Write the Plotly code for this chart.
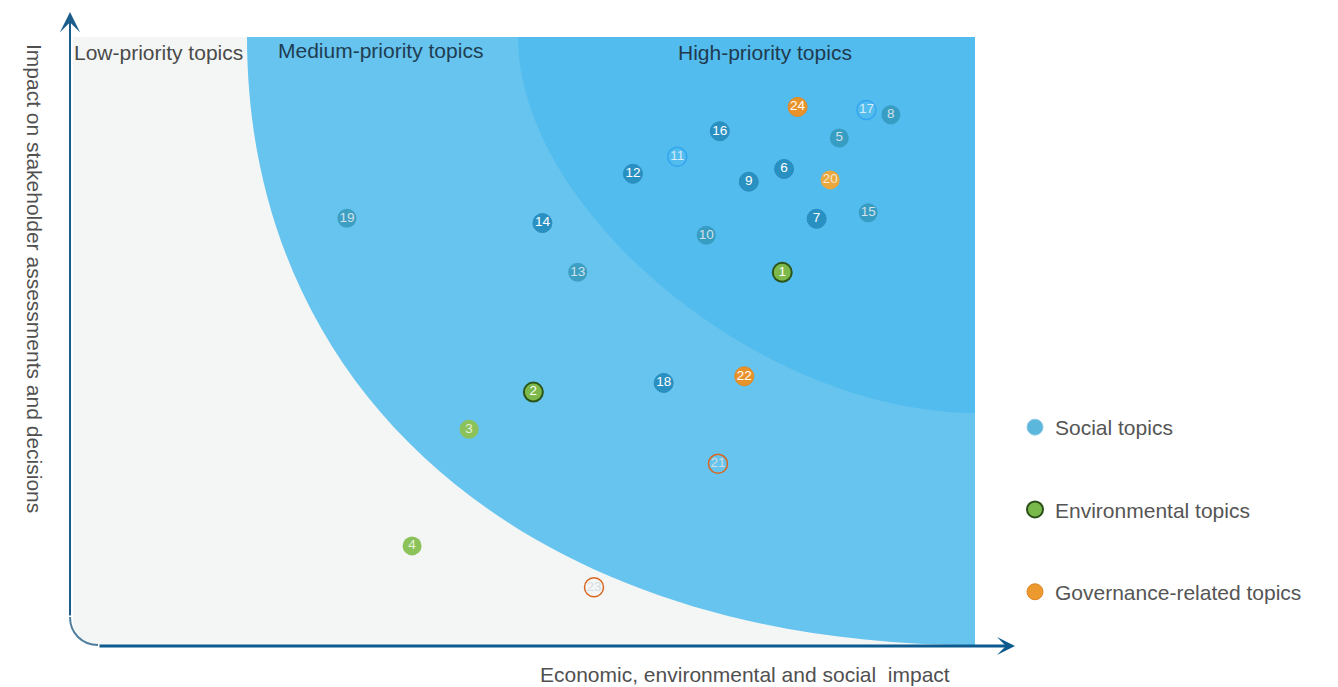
import plotly.graph_objects as go

# ---------------- data (0-10 scale on both axes) ----------------
topic_ids = [1, 2, 3, 4, 5, 6, 7, 8, 9, 10, 11, 12, 13, 14, 15, 16, 17, 18, 19, 20, 21, 22, 23, 24]
economic_impact = [7.87, 5.12, 4.41, 3.78, 8.50, 7.89, 8.25, 9.07, 7.50, 7.03, 6.71, 6.22,
                   5.61, 5.22, 8.82, 7.18, 8.80, 6.56, 3.06, 8.40, 7.16, 7.45, 5.79, 8.04]
stakeholder_impact = [6.13, 4.16, 3.55, 1.63, 8.34, 7.83, 7.01, 8.72, 7.62, 6.74, 8.03, 7.75,
                      6.13, 6.94, 7.11, 8.45, 8.80, 4.31, 7.02, 7.65, 2.98, 4.42, 0.95, 8.85]
category = ["Environmental"] * 4 + ["Social"] * 15 + ["Governance"] * 5

legend_labels = ["Social topics", "Environmental topics", "Governance-related topics"]
zone_labels = ["Low-priority topics", "Medium-priority topics", "High-priority topics"]
x_title = "Economic, environmental and social  impact"
y_title = "Impact on stakeholder assessments and decisions"

# ---------------- styles ----------------
variant = {1: "env_dark", 2: "env_dark", 3: "env_light", 4: "env_light",
           5: "soc_muted", 6: "soc_solid", 7: "soc_solid", 8: "soc_muted", 9: "soc_solid",
           10: "soc_muted", 11: "soc_hollow", 12: "soc_solid", 13: "soc_muted", 14: "soc_solid",
           15: "soc_muted", 16: "soc_solid", 17: "soc_hollow", 18: "soc_solid", 19: "soc_muted",
           20: "gov_light", 21: "gov_hollow", 22: "gov_solid", 23: "gov_hollow", 24: "gov_solid"}
# fill, line colour, line width, text colour
variant_style = {
    "soc_solid": ("#2990c2", "#2a8cbd", 1, "#ffffff"),
    "soc_muted": ("rgba(40,140,170,0.65)", "rgba(40,140,170,0.0)", 0, "#d3e2ea"),
    "soc_hollow": ("rgba(0,0,0,0)", "#33a6ef", 1.5, "#d6ecfa"),
    "env_dark": ("#7cb84a", "#2c5519", 2, "#ffffff"),
    "env_light": ("#8cc25a", "#8cc25a", 0, "#e6f2da"),
    "gov_solid": ("#e8932a", "#e08a25", 1, "#ffffff"),
    "gov_light": ("#eba63d", "#eba63d", 0, "#f6ead2"),
    "gov_hollow": ("rgba(0,0,0,0)", "#d9661e", 1.5, "#d3dde3"),
}

W, H = 1338, 687
L, R, T, B = 70, 975, 37, 645   # plot area in pixels


def px(xp):
    return (xp - L) / (R - L)


def py(yp):
    return (B - yp) / (B - T)


fig = go.Figure()

# ---------------- background zones ----------------
grey = (f"M {px(73)},{py(37)} L {px(975)},{py(37)} L {px(975)},{py(645)} L {px(98)},{py(645)} "
        f"C {px(84)},{py(645)} {px(73)},{py(634)} {px(73)},{py(620)} Z")
k1, rx1, ry1, x01 = 0.6, 728, 608, 247
medium = (f"M {px(x01)},{py(37)} C {px(x01)},{py(37 + k1 * ry1)} {px(975 - k1 * rx1)},{py(645)} "
          f"{px(975)},{py(645)} L {px(975)},{py(37)} Z")
k2, rx2, ry2, x02 = 0.465, 457, 376, 518
high = (f"M {px(x02)},{py(37)} C {px(x02)},{py(37 + k2 * ry2)} {px(975 - k2 * rx2)},{py(37 + ry2)} "
        f"{px(975)},{py(37 + ry2)} L {px(975)},{py(37)} Z")
shapes = [
    dict(type="path", path=grey, xref="paper", yref="paper", fillcolor="#f4f6f6",
         line=dict(width=0), layer="below"),
    dict(type="path", path=medium, xref="paper", yref="paper", fillcolor="#66c4ee",
         line=dict(width=0), layer="below"),
    dict(type="path", path=high, xref="paper", yref="paper", fillcolor="#53bcee",
         line=dict(width=0), layer="below"),
    # rounded corner joining the two axis lines
    dict(type="path", path=f"M {px(70)},{py(617)} C {px(70)},{py(633)} {px(82)},{py(645)} {px(98)},{py(645)}",
         xref="paper", yref="paper", line=dict(color="#4e7d9c", width=2)),
]

font = "Liberation Sans, Arial, sans-serif"

# ---------------- data points ----------------
for cat in ["Social", "Environmental", "Governance"]:
    idx = [i for i, c in enumerate(category) if c == cat]
    sty = [variant_style[variant[topic_ids[i]]] for i in idx]
    fig.add_trace(go.Scatter(
        x=[economic_impact[i] for i in idx],
        y=[stakeholder_impact[i] for i in idx],
        mode="markers+text",
        text=[str(topic_ids[i]) for i in idx],
        textposition="middle center",
        textfont=dict(family=font, size=13.5, color=[s[3] for s in sty]),
        marker=dict(size=19, color=[s[0] for s in sty],
                    line=dict(color=[s[1] for s in sty], width=[s[2] for s in sty])),
        showlegend=False, hoverinfo="skip", cliponaxis=False,
    ))

# ---------------- legend entries ----------------
legend_markers = [
    dict(size=17, color="#5cb7dc", line=dict(color="#8fcbe6", width=1)),
    dict(size=16, color="#79b84a", line=dict(color="#2b4f1a", width=2)),
    dict(size=17, color="#ec992d", line=dict(color="#e0862a", width=1)),
]
for lab, mk in zip(legend_labels, legend_markers):
    fig.add_trace(go.Scatter(x=[None], y=[None], mode="markers", name=lab, marker=mk,
                             legendgroup=lab, showlegend=True))

# ---------------- annotations ----------------
ann = [
    dict(x=px(158), y=py(52), text=zone_labels[0], font=dict(size=21, color="#4a4a4a", family=font)),
    dict(x=px(380), y=py(51), text=zone_labels[1], font=dict(size=21, color="#1f3d52", family=font)),
    dict(x=px(765), y=py(53), text=zone_labels[2], font=dict(size=21, color="#1f3a4f", family=font)),
    dict(x=px(745), y=py(674), text=x_title, font=dict(size=21, color="#505050", family=font)),
    dict(x=px(35), y=py(278), text=y_title, textangle=90, font=dict(size=21, color="#505050", family=font)),
]
for a in ann:
    a.update(xref="paper", yref="paper", showarrow=False, xanchor="center", yanchor="middle")
# axis arrows
ann.append(dict(x=px(70), y=py(12), xref="paper", yref="paper", text="", showarrow=True,
                ax=0, ay=605, axref="pixel", ayref="pixel", arrowhead=3, arrowsize=1.7,
                arrowwidth=2, arrowcolor="#1d5d8c", standoff=0))
ann.append(dict(x=px(1015), y=py(646), xref="paper", yref="paper", text="", showarrow=True,
                ax=-917, ay=0, axref="pixel", ayref="pixel", arrowhead=3, arrowsize=1.0,
                arrowwidth=3, arrowcolor="#0d5a8e", standoff=0))

fig.update_layout(
    width=W, height=H,
    margin=dict(l=L, r=W - R, t=T, b=H - B, pad=0),
    paper_bgcolor="white", plot_bgcolor="rgba(0,0,0,0)",
    xaxis=dict(range=[0, 10], visible=False, fixedrange=True),
    yaxis=dict(range=[0, 10], visible=False, fixedrange=True),
    shapes=shapes, annotations=ann,
    legend=dict(x=px(1015), y=py(407), xanchor="left", yanchor="top",
                font=dict(family=font, size=21, color="#555555"),
                tracegroupgap=52, bgcolor="rgba(0,0,0,0)", itemsizing="trace"),
    font=dict(family=font),
)

fig.write_html("out.html")
